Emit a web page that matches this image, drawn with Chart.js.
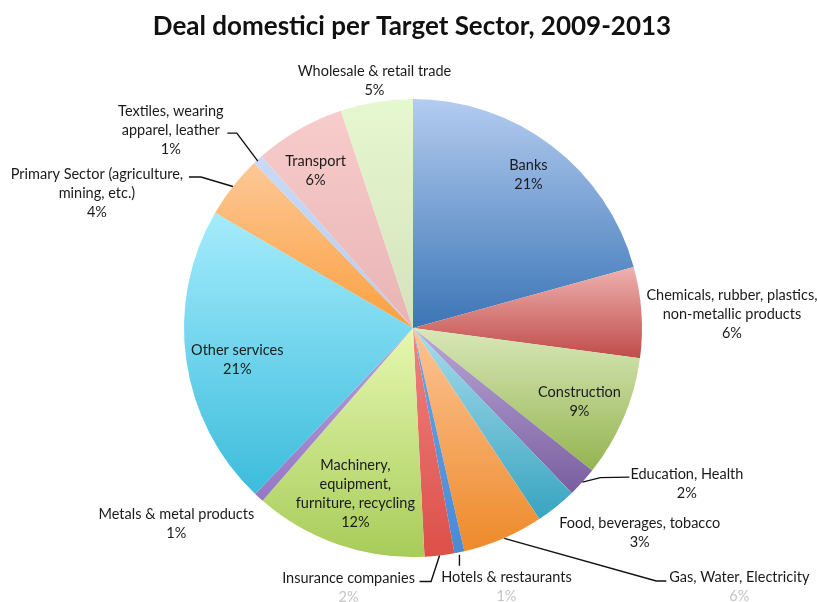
<!DOCTYPE html>
<html>
<head>
<meta charset="utf-8">
<script src="https://cdn.jsdelivr.net/npm/chart.js@4"></script>
<style>
  html, body { margin: 0; padding: 0; background: #ffffff; }
  #wrap { width: 817px; height: 602px; position: relative; }
</style>
</head>
<body>
<div id="wrap"><canvas id="pie" width="817" height="602"></canvas></div>
<script>
// Target sectors, clockwise from 12 o'clock
const sectors = [
  'Banks',
  'Chemicals, rubber, plastics, non-metallic products',
  'Construction',
  'Education, Health',
  'Food, beverages, tobacco',
  'Gas, Water, Electricity',
  'Hotels & restaurants',
  'Insurance companies',
  'Machinery, equipment, furniture, recycling',
  'Metals & metal products',
  'Other services',
  'Primary Sector (agriculture, mining, etc.)',
  'Textiles, wearing apparel, leather',
  'Transport',
  'Wholesale & retail trade'
];

// Share of domestic deals, percent
const shares = [20.7, 6.4, 8.6, 2.1, 2.9, 5.7, 0.7, 2.1, 12.2, 0.7, 21.3, 4.4, 0.7, 6.4, 5.1];

// How each sector name is broken over lines in its label
const labelLines = [
  ['Banks'],
  ['Chemicals, rubber, plastics,', 'non-metallic products'],
  ['Construction'],
  ['Education, Health'],
  ['Food, beverages, tobacco'],
  ['Gas, Water, Electricity'],
  ['Hotels & restaurants'],
  ['Insurance companies'],
  ['Machinery,', 'equipment,', 'furniture, recycling'],
  ['Metals & metal products'],
  ['Other services'],
  ['Primary Sector (agriculture,', 'mining, etc.)'],
  ['Textiles, wearing', 'apparel, leather'],
  ['Transport'],
  ['Wholesale & retail trade']
];

// Slice fills: light top colour, dark bottom colour
const topColors = ['#b4ccf0', '#eeb2b0', '#d8e8b8', '#baa8d6', '#a8dcec', '#fcc496', '#6aa6e4', '#ee8282',
                   '#e6f8b0', '#b8a0dc', '#a4ecfc', '#fcc896', '#c8daf6', '#f8cccc', '#e6f8d0'];
const bottomColors = ['#3b75b6', '#c04c48', '#94b450', '#7a5ea0', '#38a4c0', '#ee8a2a', '#4a8ad4', '#dc5048',
                      '#a8cc5a', '#9478c4', '#3cbcdc', '#fca040', '#b8ccf0', '#e8b4b4', '#d4e2bc'];

// Label placement: inside labels sit at a fraction of the radius on the slice bisector
// (nudged by dx/dy); outside labels are offset from the point where the bisector meets
// the rim, optionally joined to it by a leader line (points relative to that rim point).
const labelLayout = [
  { kind: 'in', rf: 0.84, dx: -1, dy: 0 },
  { kind: 'out', dx: 90.5, dy: -16.5 },
  { kind: 'in', rf: 0.79, dx: 0, dy: 3 },
  { kind: 'out', dx: 104.5, dy: -7.5, leader: [[0, 0], [18, -4.5], [47, -5]] },
  { kind: 'out', dx: 83.5, dy: 16.5 },
  { kind: 'out', dx: 236, dy: 39, leader: [[1, 0], [153, 42.5], [163, 42.5]] },
  { kind: 'out', dx: 47, dy: 25.5, leader: [[0, 2.5], [0, 13.5]] },
  { kind: 'out', dx: -91, dy: 22.5, leader: [[0, 0], [-8.5, 26], [-20, 26]] },
  { kind: 'in', rf: 0.77, dx: 0, dy: -1 },
  { kind: 'out', dx: -82.5, dy: 16.5 },
  { kind: 'in', rf: 0.775, dx: 0, dy: 7 },
  { kind: 'out', dx: -136, dy: -12.5, leader: [[0, 0], [-32, -9.5], [-44, -9.5]] },
  { kind: 'out', dx: -87, dy: -48.5, leader: [[0, 1.5], [-21, -26.5], [-30.5, -26.5]] },
  { kind: 'in', rf: 0.81, dx: -5, dy: 4 },
  { kind: 'out', dx: -2, dy: -31 }
];

const chartTitle = 'Deal domestici per Target Sector, 2009-2013';
const LABEL_FONT = '14.5px Lato, "Open Sans", sans-serif';
const TITLE_FONT = 'bold 26px Lato, "Open Sans", sans-serif';
const LINE_H = 19;
const TEXT_COLOR = '#1a1a1a';
const FADED_ROWS = 578; // percentage rows below this line fall off the bottom edge

// Vertical gradient spanning the slice's own bounding box
function sliceGradient(ctx) {
  const chart = ctx.chart;
  const i = ctx.dataIndex;
  const area = chart.chartArea;
  if (!area || i === undefined) return topColors[i] || '#ccc';
  const cx = (area.left + area.right) / 2;
  const cy = (area.top + area.bottom) / 2;
  const r = Math.min(area.right - area.left, area.bottom - area.top) / 2;
  const total = shares.reduce((a, b) => a + b, 0);
  let before = 0;
  for (let k = 0; k < i; k++) before += shares[k];
  const a0 = -Math.PI / 2 + (before / total) * Math.PI * 2;
  const a1 = a0 + (shares[i] / total) * Math.PI * 2;
  let ys = [cy, cy + r * Math.sin(a0), cy + r * Math.sin(a1)];
  const within = (a) => {
    let t = a;
    while (t < a0) t += Math.PI * 2;
    return t <= a1;
  };
  if (within(-Math.PI / 2)) ys.push(cy - r);
  if (within(Math.PI / 2)) ys.push(cy + r);
  const yTop = Math.min(...ys), yBot = Math.max(...ys);
  const g = chart.ctx.createLinearGradient(0, yTop, 0, Math.max(yBot, yTop + 1));
  g.addColorStop(0, topColors[i]);
  g.addColorStop(1, bottomColors[i]);
  return g;
}

const labelPlugin = {
  id: 'sectorLabels',
  afterDraw(chart) {
    const ctx = chart.ctx;
    const meta = chart.getDatasetMeta(0);
    const total = shares.reduce((a, b) => a + b, 0);

    ctx.save();
    // title
    ctx.font = TITLE_FONT;
    ctx.fillStyle = '#111';
    ctx.textAlign = 'center';
    ctx.textBaseline = 'alphabetic';
    ctx.fillText(chartTitle, 412, 35);

    ctx.font = LABEL_FONT;
    ctx.textBaseline = 'middle';
    meta.data.forEach((arc, i) => {
      const p = arc.getProps(['x', 'y', 'startAngle', 'endAngle', 'outerRadius'], true);
      const mid = (p.startAngle + p.endAngle) / 2;
      const rimX = p.x + p.outerRadius * Math.cos(mid);
      const rimY = p.y + p.outerRadius * Math.sin(mid);
      const pct = Math.round(shares[i] / total * 100) + '%';
      const lines = labelLines[i].concat([pct]);
      const lay = labelLayout[i];
      let bx, firstY;
      if (lay.kind === 'in') {
        const d = p.outerRadius * lay.rf;
        bx = p.x + d * Math.cos(mid) + lay.dx;
        const by = p.y + d * Math.sin(mid) + lay.dy;
        firstY = by - (lines.length - 1) * LINE_H / 2;
      } else {
        bx = rimX + lay.dx;
        firstY = rimY + lay.dy;
        if (lay.leader) {
          ctx.beginPath();
          lay.leader.forEach(([lx, ly], k) => {
            if (k === 0) ctx.moveTo(rimX + lx, rimY + ly);
            else ctx.lineTo(rimX + lx, rimY + ly);
          });
          ctx.strokeStyle = '#111';
          ctx.lineWidth = 1.4;
          ctx.stroke();
        }
      }
      lines.forEach((t, k) => {
        const ly = firstY + k * LINE_H;
        ctx.fillStyle = ly > FADED_ROWS + 5 ? '#c4c4c4' : TEXT_COLOR;
        ctx.fillText(t, bx, ly);
      });
    });
    ctx.restore();
  }
};

new Chart(document.getElementById('pie'), {
  type: 'pie',
  data: {
    labels: sectors,
    datasets: [{
      data: shares,
      backgroundColor: sliceGradient,
      borderWidth: 0,
      hoverOffset: 0
    }]
  },
  options: {
    responsive: false,
    devicePixelRatio: 1,
    animation: false,
    layout: { padding: { top: 99, bottom: 45, left: 184, right: 175 } },
    plugins: {
      legend: { display: false },
      tooltip: { enabled: false },
      title: { display: false }
    }
  },
  plugins: [labelPlugin]
});
</script>
</body>
</html>
